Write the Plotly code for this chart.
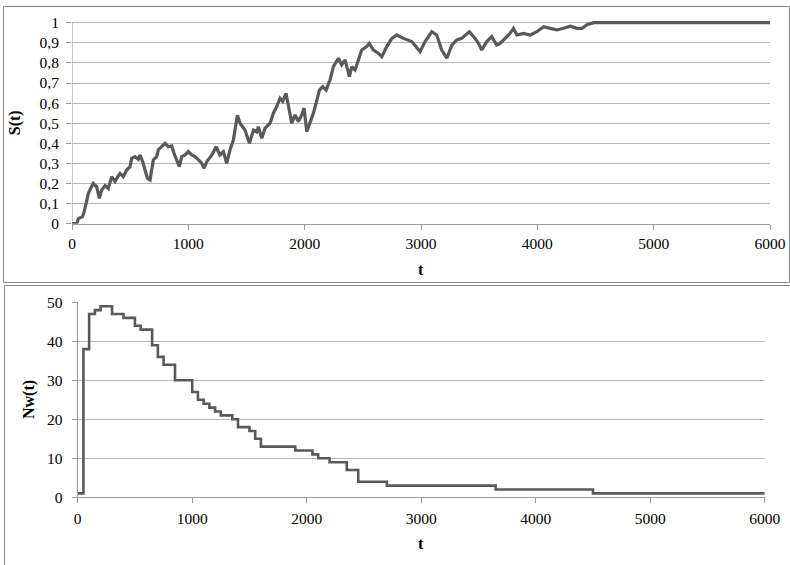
import plotly.graph_objects as go

# ---- data: S(t) (top panel) ----
s_t = [0, 40, 55, 70, 90, 105, 120, 140, 160, 183, 200, 212, 235, 255, 284, 312, 341, 370, 390,
       413, 441, 470, 499, 513, 542, 570, 585, 608, 628, 648, 671, 685, 699, 728, 742, 771, 800,
       828, 857, 877, 900, 923, 943, 972, 1000, 1029, 1057, 1086, 1110, 1135, 1160, 1187, 1210,
       1238, 1272, 1301, 1330, 1358, 1387, 1422, 1444, 1487, 1525, 1560, 1588, 1602, 1631, 1660,
       1703, 1731, 1760, 1788, 1811, 1840, 1860, 1889, 1917, 1946, 1975, 1995, 2018, 2047, 2075,
       2098, 2127, 2155, 2184, 2218, 2247, 2290, 2318, 2347, 2385, 2404, 2433, 2462, 2490, 2533,
       2556, 2591, 2634, 2663, 2706, 2749, 2792, 2849, 2920, 2992, 3035, 3093, 3135, 3178, 3222,
       3265, 3307, 3350, 3416, 3465, 3494, 3522, 3565, 3608, 3651, 3680, 3723, 3766, 3795, 3824,
       3881, 3939, 3996, 4054, 4111, 4169, 4226, 4283, 4341, 4384, 4427, 4484, 6000]
s_val = [0, 0, 0.025, 0.03, 0.035, 0.06, 0.093, 0.15, 0.175, 0.20, 0.19, 0.184, 0.126, 0.168, 0.19,
         0.175, 0.234, 0.21, 0.23, 0.25, 0.234, 0.267, 0.284, 0.325, 0.334, 0.32, 0.342, 0.308,
         0.267, 0.226, 0.217, 0.267, 0.317, 0.334, 0.367, 0.383, 0.40, 0.383, 0.387, 0.35, 0.317,
         0.284, 0.334, 0.342, 0.359, 0.342, 0.334, 0.317, 0.305, 0.276, 0.31, 0.33, 0.35, 0.383,
         0.342, 0.358, 0.30, 0.367, 0.416, 0.54, 0.50, 0.466, 0.40, 0.466, 0.457, 0.483, 0.425,
         0.475, 0.50, 0.55, 0.583, 0.624, 0.608, 0.649, 0.583, 0.50, 0.541, 0.508, 0.541, 0.575,
         0.458, 0.50, 0.55, 0.599, 0.665, 0.682, 0.665, 0.715, 0.781, 0.823, 0.79, 0.815, 0.731,
         0.781, 0.765, 0.815, 0.864, 0.881, 0.897, 0.864, 0.848, 0.831, 0.881, 0.922, 0.939, 0.922,
         0.906, 0.856, 0.906, 0.955, 0.939, 0.864, 0.823, 0.889, 0.914, 0.922, 0.955, 0.922, 0.897,
         0.864, 0.906, 0.931, 0.889, 0.897, 0.922, 0.947, 0.972, 0.939, 0.947, 0.939, 0.955, 0.98,
         0.972, 0.964, 0.972, 0.983, 0.972, 0.972, 0.99, 1.0, 1.0]

# ---- data: Nw(t) (bottom panel, step function) ----
nw_t = [0, 50, 100, 150, 200, 300, 400, 500, 550, 650, 700, 750, 850, 1000, 1050, 1100, 1150,
        1200, 1250, 1350, 1400, 1500, 1550, 1600, 1900, 2050, 2100, 2200, 2350, 2450, 2700, 3650,
        4500, 6000]
nw_val = [1, 38, 47, 48, 49, 47, 46, 44, 43, 39, 36, 34, 30, 27, 25, 24, 23, 22, 21, 20, 18, 17,
          15, 13, 12, 11, 10, 9, 7, 4, 3, 2, 1, 1]

# ---- tick labels ----
x_ticks = [0, 1000, 2000, 3000, 4000, 5000, 6000]
x_labels = ["0", "1000", "2000", "3000", "4000", "5000", "6000"]
s_ticks = [0, 0.1, 0.2, 0.3, 0.4, 0.5, 0.6, 0.7, 0.8, 0.9, 1.0]
s_labels = ["0", "0,1", "0,2", "0,3", "0,4", "0,5", "0,6", "0,7", "0,8", "0,9", "1"]
nw_ticks = [0, 10, 20, 30, 40, 50]
nw_labels = ["0", "10", "20", "30", "40", "50"]

W, H = 790, 565
LINE = "#595959"
GRID = "#b8b8b8"
AXIS = "#9a9a9a"
FONT = "Liberation Serif, Times New Roman, serif"


def px(x):
    return x / W


def py(y):
    return 1 - y / H


fig = go.Figure()
fig.add_trace(go.Scatter(x=s_t, y=s_val, mode="lines", xaxis="x", yaxis="y",
                         line=dict(color=LINE, width=3.2), showlegend=False))
fig.add_trace(go.Scatter(x=nw_t, y=nw_val, mode="lines", xaxis="x2", yaxis="y2",
                         line=dict(color=LINE, width=2.6, shape="hv"), showlegend=False))

# top plot geometry (pixels)
T_L, T_R, T_Y0, T_Y1 = 72, 770, 223.7, 22.7
top_pp = (T_Y0 - T_Y1)  # px per 1.0
top_max = 1.02
top_dom_top = T_Y0 - top_pp * top_max
# bottom plot geometry
B_L, B_R, B_Y0, B_Y50 = 77.7, 764.7, 497.3, 302.3

tickfont = dict(family=FONT, size=15.5, color="#000000")
common_x = dict(range=[0, 6000], tickvals=x_ticks, ticktext=x_labels, showgrid=False,
                showline=True, linecolor=AXIS, linewidth=1, ticks="outside", ticklen=5,
                tickcolor=AXIS, tickfont=tickfont, zeroline=False, fixedrange=True,
                automargin=False)

fig.update_layout(
    width=W, height=H, margin=dict(l=0, r=0, t=0, b=0, pad=0, autoexpand=False),
    paper_bgcolor="white", plot_bgcolor="white",
    font=dict(family=FONT),
    xaxis=dict(domain=[px(T_L), px(T_R)], anchor="y", ticklabelstandoff=1, **common_x),
    yaxis=dict(domain=[py(T_Y0), py(top_dom_top)], anchor="x", range=[0, top_max],
               tickvals=s_ticks, ticktext=s_labels, showgrid=True, gridcolor=GRID,
               gridwidth=1, showline=False, ticks="outside", ticklen=5, tickcolor=AXIS,
               tickfont=tickfont, zeroline=False, automargin=False, ticklabelstandoff=4),
    xaxis2=dict(domain=[px(B_L), px(B_R)], anchor="y2", ticklabelstandoff=2, **common_x),
    yaxis2=dict(domain=[py(B_Y0), py(B_Y50)], anchor="x2", range=[0, 50],
                tickvals=nw_ticks, ticktext=nw_labels, showgrid=True, gridcolor=GRID,
                gridwidth=1, showline=True, linecolor=AXIS, linewidth=1, ticks="outside",
                ticklen=5, tickcolor=AXIS, tickfont=tickfont, zeroline=False,
                automargin=False, ticklabelstandoff=6),
)

shapes = [
    # y-axis line of top panel (0..1 only)
    dict(type="line", xref="x", yref="y", x0=0, x1=0, y0=0, y1=1,
         line=dict(color=AXIS, width=1), layer="below"),
    # panel borders
    dict(type="rect", xref="paper", yref="paper", x0=px(3.5), x1=px(789.5), y0=py(282.5),
         y1=py(6.5), line=dict(color="#8a8a8a", width=1)),
    dict(type="rect", xref="paper", yref="paper", x0=px(4.5), x1=px(800), y0=py(600),
         y1=py(285.5), line=dict(color="#8a8a8a", width=1)),
]
fig.update_layout(shapes=shapes)

title_font = dict(family=FONT, size=16, color="#000000")
annotations = [
    dict(text="<b>S(t)</b>", xref="paper", yref="paper", x=px(15), y=py((T_Y0 + T_Y1) / 2),
         textangle=-90, showarrow=False, font=title_font, xanchor="center", yanchor="middle"),
    dict(text="<b>t</b>", xref="paper", yref="paper", x=px(421), y=py(269), showarrow=False,
         font=title_font, xanchor="center", yanchor="middle"),
    dict(text="<b>Nw(t)</b>", xref="paper", yref="paper", x=px(29), y=py(400), textangle=-90,
         showarrow=False, font=title_font, xanchor="center", yanchor="middle"),
    dict(text="<b>t</b>", xref="paper", yref="paper", x=px(421), y=py(543), showarrow=False,
         font=title_font, xanchor="center", yanchor="middle"),
]
fig.update_layout(annotations=annotations)

fig.write_html("out.html")
